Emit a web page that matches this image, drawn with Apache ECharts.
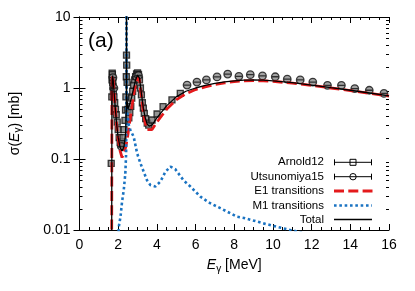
<!DOCTYPE html>
<html><head><meta charset="utf-8">
<script src="https://cdn.jsdelivr.net/npm/echarts@6/dist/echarts.min.js"></script>
<style>html,body{margin:0;padding:0;background:#fff}#c{width:415px;height:291px}</style>
</head><body><div id="c"></div>
<script>
// ---- data ----
const xTickValues = [0, 2, 4, 6, 8, 10, 12, 14, 16];
const yTickValues = [0.01, 0.1, 1, 10];
const yTickLabels = ['0.01', '0.1', '1', '10'];
const yMinorTicks = [0.02,0.03,0.04,0.05,0.06,0.07,0.08,0.09,0.2,0.3,0.4,0.5,0.6,0.7,0.8,0.9,2,3,4,5,6,7,8,9];

const e1Energy = [1.66,1.665,1.675,1.69,1.71,1.74,1.78,1.84,1.92,2.0,2.1,2.2,2.3,2.4,2.5,2.6,2.7,2.8,2.9,3.0,3.05,3.1,3.2,3.3,3.4,3.5,3.6,3.75,4.0,4.5,5.0,5.5,6.0,6.5,7.0,7.5,8.0,8.5,9.0,9.5,10,11,12,13,14,15,16];
const e1Sigma  = [0.001,0.001,0.6,1.35,1.5,1.3,0.95,0.55,0.3,0.19,0.13,0.105,0.11,0.15,0.22,0.34,0.52,0.8,1.15,1.4,1.45,1.3,0.75,0.45,0.32,0.26,0.245,0.26,0.33,0.5,0.68,0.83,0.95,1.04,1.12,1.18,1.23,1.26,1.27,1.26,1.24,1.17,1.09,1.0,0.92,0.84,0.77];

const m1Energy = [1.98,2.0,2.03,2.12,2.2,2.29,2.37,2.41,2.425,2.43,2.435,2.45,2.55,2.63,2.8,2.98,3.15,3.32,3.49,3.66,3.92,4.18,4.44,4.70,4.95,5.38,5.73,6.25,6.76,7.28,8.14,8.5,9.51,10.2,10.9,11.5];
const m1Sigma  = [0.001,0.007,0.011,0.0154,0.025,0.037,0.063,0.12,1.0,100,1.5,0.5,0.3,0.256,0.206,0.12,0.087,0.066,0.05,0.043,0.041,0.048,0.066,0.078,0.072,0.05,0.041,0.0295,0.0238,0.0203,0.0154,0.0148,0.0124,0.0111,0.01,0.0092];

const totalEnergy = [1.66,1.665,1.675,1.69,1.71,1.74,1.78,1.84,1.92,2.0,2.1,2.2,2.3,2.38,2.42,2.43,2.44,2.5,2.6,2.7,2.8,2.9,3.0,3.05,3.1,3.2,3.3,3.4,3.5,3.6,3.75,4.0,4.5,5.0,5.5,6.0,6.5,7.0,7.5,8.0,8.5,9.0,9.5,10,11,12,13,14,15,16];
const totalSigma  = [0.001,0.001,0.6,1.35,1.5,1.3,0.95,0.56,0.31,0.2,0.145,0.13,0.15,0.22,0.5,100,0.8,0.5,0.6,0.75,1.0,1.3,1.52,1.55,1.38,0.84,0.52,0.38,0.31,0.29,0.30,0.38,0.56,0.75,0.9,1.0,1.09,1.16,1.22,1.26,1.29,1.30,1.29,1.26,1.19,1.1,1.01,0.93,0.85,0.775];

const arnoldEnergy = [1.64,1.67,1.68,1.69,1.70,1.71,1.72,1.73,1.75,1.78,1.82,1.86,1.9,1.95,2.0,2.05,2.1,2.15,2.2,2.25,2.3,2.35,2.38,2.40,2.42,2.43,2.44,2.46,2.5,2.55,2.6,2.65,2.7,2.75,2.8,2.85,2.9,2.95,3.0,3.05,3.1,3.15,3.2,3.25,3.3,3.35,3.42,3.5,3.58,3.75,4.01,4.32,4.78,5.21];
const arnoldSigma  = [0.087,0.75,1.3,1.62,1.55,1.4,1.2,1.05,0.9,0.75,0.62,0.5,0.42,0.33,0.26,0.2,0.17,0.16,0.175,0.2,0.26,0.35,0.49,0.75,1.44,2.9,2.1,1.2,0.5,0.38,0.45,0.55,0.72,0.9,1.1,1.3,1.45,1.58,1.63,1.55,1.3,1.0,0.8,0.62,0.52,0.44,0.37,0.32,0.30,0.354,0.43,0.545,0.68,0.84];

const utsuEnergy = [1.73,1.78,2.17,2.95,3.05,5.56,6.07,6.56,7.11,7.66,8.24,8.83,9.46,10.12,10.74,11.41,12.06,12.82,13.54,14.23,14.98,15.74];
const utsuSigma  = [1.4,1.0,0.15,1.45,1.5,1.10,1.21,1.30,1.43,1.57,1.46,1.54,1.48,1.44,1.33,1.30,1.21,1.09,1.09,0.98,0.93,0.84];

const legendNames = ['Arnold12', 'Utsunomiya15', 'E1 transitions', 'M1 transitions', 'Total'];

// ---- helpers ----
const zip = (a, b) => a.map((v, i) => [v, b[i]]);
const FONT = '"Liberation Sans", Arial, Helvetica, sans-serif';
const RED = '#e41a1c', BLUE = '#1a73c2';

const chart = echarts.init(document.getElementById('c'), null, {renderer: 'canvas'});

const grid = {left: 79, right: 26, top: 17, bottom: 61, containLabel: false};
const xBase = {
  type: 'value', min: 0, max: 16, interval: 2,
  axisLine: {lineStyle: {color: '#000', width: 1}},
  axisTick: {inside: true, length: 6, lineStyle: {color: '#000'}},
  minorTick: {show: true, splitNumber: 4, length: 3, lineStyle: {color: '#000'}},
  splitLine: {show: false}, minorSplitLine: {show: false}
};
const yBase = {
  type: 'log', logBase: 10, min: 0.01, max: 10,
  axisLine: {lineStyle: {color: '#000', width: 1}},
  axisTick: {inside: true, length: 6, lineStyle: {color: '#000'}},
  splitLine: {show: false}
};

// legend graphics
const legX1 = 334, legX2 = 372, legTextX = 324;
const legY = [162.3, 176.7, 191, 205.5, 219.5];
const g = [];
legendNames.forEach((n, i) => {
  g.push({type: 'text', x: legTextX, y: legY[i], style: {text: n, align: 'right', verticalAlign: 'middle', fontSize: 11.5, fontFamily: FONT, fill: '#000'}});
});
[0, 1].forEach(i => {
  const y = legY[i];
  g.push({type: 'line', shape: {x1: legX1, y1: y, x2: legX2, y2: y}, style: {stroke: '#000', lineWidth: 1}});
  g.push({type: 'line', shape: {x1: legX1 + 0.5, y1: y - 3, x2: legX1 + 0.5, y2: y + 3}, style: {stroke: '#000', lineWidth: 1}});
  g.push({type: 'line', shape: {x1: legX2 - 0.5, y1: y - 3, x2: legX2 - 0.5, y2: y + 3}, style: {stroke: '#000', lineWidth: 1}});
});
g.push({type: 'rect', shape: {x: 350, y: legY[0] - 3, width: 6, height: 6}, style: {fill: '#fff', stroke: '#000', lineWidth: 1}});
g.push({type: 'line', shape: {x1: 350, y1: legY[0], x2: 356, y2: legY[0]}, style: {stroke: '#000', lineWidth: 1}});
g.push({type: 'circle', shape: {cx: 353, cy: legY[1], r: 3.2}, style: {fill: '#fff', stroke: '#000', lineWidth: 1}});
g.push({type: 'line', shape: {x1: 349.8, y1: legY[1], x2: 356.2, y2: legY[1]}, style: {stroke: '#000', lineWidth: 1}});
g.push({type: 'line', shape: {x1: legX1, y1: legY[2], x2: legX2 + 0.5, y2: legY[2]}, style: {stroke: RED, lineWidth: 2.8, lineDash: [10, 4.3]}});
g.push({type: 'line', shape: {x1: legX1, y1: legY[3], x2: legX2, y2: legY[3]}, style: {stroke: BLUE, lineWidth: 2.6, lineDash: [2.6, 2.73]}});
g.push({type: 'line', shape: {x1: legX1, y1: legY[4], x2: legX2, y2: legY[4]}, style: {stroke: '#000', lineWidth: 1.3}});
g.push({type: 'text', x: 88, y: 41, style: {text: '(a)', align: 'left', verticalAlign: 'middle', fontSize: 21, fontFamily: FONT, fill: '#000'}});

const rich = {
  n: {fontSize: 14, fontFamily: FONT, color: '#000'},
  e: {fontSize: 14, fontFamily: FONT, fontStyle: 'italic', color: '#000'},
  s: {fontSize: 10, fontFamily: FONT, color: '#000', padding: [7, 0, 0, 0]}
};

chart.setOption({
  animation: false,
  backgroundColor: '#fff',
  textStyle: {fontFamily: FONT},
  grid: grid,
  xAxis: [
    Object.assign({}, xBase, {
      position: 'bottom',
      axisLabel: {fontSize: 14, color: '#000', margin: 8, fontFamily: FONT,
        formatter: v => { const i = xTickValues.indexOf(v); return i >= 0 ? String(xTickValues[i]) : ''; }},
      name: '{e|E}{s|γ}{n| [MeV]}', nameLocation: 'middle', nameGap: 27,
      nameTextStyle: {rich: rich}
    }),
    Object.assign({}, xBase, {position: 'top', axisLabel: {show: false}})
  ],
  yAxis: [
    Object.assign({}, yBase, {
      position: 'left',
      axisLabel: {fontSize: 14, color: '#000', margin: 9, fontFamily: FONT,
        formatter: v => { let best = 0; yTickValues.forEach((t, i) => { if (Math.abs(Math.log10(t) - Math.log10(v)) < Math.abs(Math.log10(yTickValues[best]) - Math.log10(v))) best = i; }); return yTickLabels[best]; }},
      name: '{n|σ(}{e|E}{s|γ}{n|) [mb]}', nameLocation: 'middle', nameGap: 56, nameRotate: 90,
      nameTextStyle: {rich: rich}
    }),
    Object.assign({}, yBase, {position: 'right', axisLabel: {show: false}})
  ],
  graphic: g,
  series: [
    {
      type: 'custom', name: 'yminor', silent: true, clip: false,
      data: yMinorTicks.map(v => [0, v]),
      encode: {x: 0, y: 1},
      renderItem: function (params, api) {
        const v = api.value(1);
        const pL = api.coord([0, v]);
        const pR = api.coord([16, v]);
        return {type: 'group', children: [
          {type: 'line', shape: {x1: pL[0], y1: Math.round(pL[1]) + 0.5, x2: pL[0] + 3, y2: Math.round(pL[1]) + 0.5}, style: {stroke: '#000', lineWidth: 1}},
          {type: 'line', shape: {x1: pR[0], y1: Math.round(pR[1]) + 0.5, x2: pR[0] - 3, y2: Math.round(pR[1]) + 0.5}, style: {stroke: '#000', lineWidth: 1}}
        ]};
      }
    },
    {
      type: 'scatter', name: 'Arnold12', data: zip(arnoldEnergy, arnoldSigma),
      symbol: 'rect', symbolSize: 6,
      itemStyle: {color: '#7a7a7a', borderColor: '#111', borderWidth: 1.3}
    },
    {
      type: 'scatter', name: 'Utsunomiya15', data: zip(utsuEnergy, utsuSigma),
      symbol: 'path://M0,5A5,5,0,1,1,10,5A5,5,0,1,1,0,5ZM0,5L10,5', symbolSize: 7.5, symbolKeepAspect: true,
      itemStyle: {color: '#8c8c8c', borderColor: '#111', borderWidth: 1.3}
    },
    {
      type: 'line', name: 'E1 transitions', data: zip(e1Energy, e1Sigma),
      showSymbol: false, symbol: 'none', clip: true,
      lineStyle: {color: RED, width: 2.8, type: [10, 4.3]}
    },
    {
      type: 'line', name: 'M1 transitions', data: zip(m1Energy, m1Sigma),
      showSymbol: false, symbol: 'none', clip: true,
      lineStyle: {color: BLUE, width: 2.6, type: [2.6, 2.73]}
    },
    {
      type: 'line', name: 'Total', data: zip(totalEnergy, totalSigma),
      showSymbol: false, symbol: 'none', clip: true,
      lineStyle: {color: '#000', width: 1.3}
    }
  ]
});
</script>
</body></html>
